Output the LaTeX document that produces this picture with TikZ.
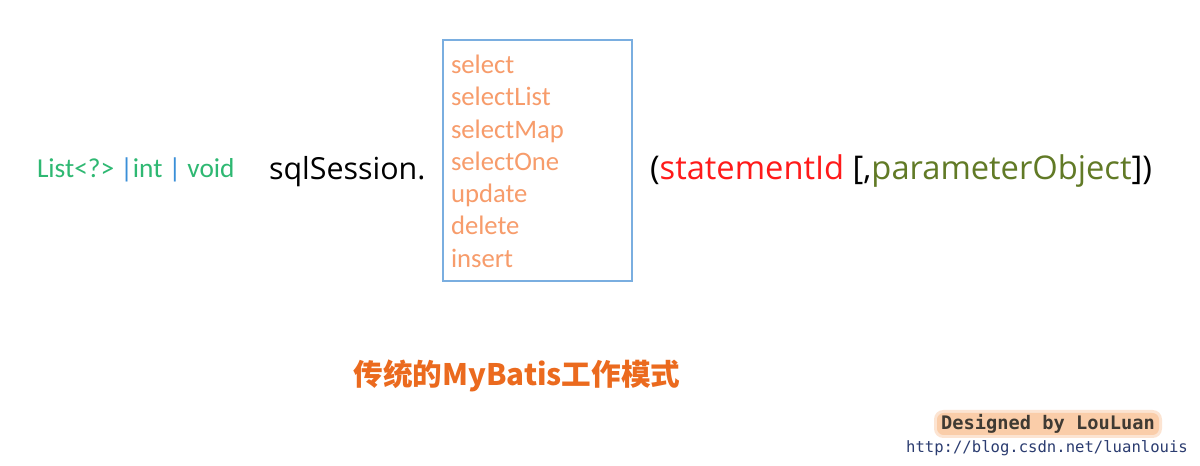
\documentclass[tikz,border=0pt]{standalone}
\usepackage{fontspec}
\setmainfont{Carlito}
\newfontfamily\cjk{Noto Sans CJK SC}
\newfontfamily\comic{Open Sans}
\newfontfamily\mono{DejaVu Sans Mono}
\definecolor{rtgreen}{HTML}{2EB872}
\definecolor{pipeblue}{HTML}{3A8FD8}
\definecolor{itemorange}{HTML}{F79C6B}
\definecolor{boxblue}{HTML}{7AAEE0}
\definecolor{stred}{HTML}{FF1A1A}
\definecolor{olive}{HTML}{617A26}
\definecolor{titleorange}{HTML}{EB6A1E}
\definecolor{signtext}{HTML}{3F3A33}
\definecolor{glow}{HTML}{F9C49A}
\definecolor{urlblue}{HTML}{2B3C70}
\tikzset{
  txt/.style={inner sep=0pt, outer sep=0pt, anchor=base west},
  item/.style={txt, text=itemorange, font=\fontsize{20pt}{22pt}\selectfont},
  methodbox/.style={draw=boxblue, line width=1.1pt, inner sep=0pt}
}
\begin{document}
\begin{tikzpicture}[x=0.75pt,y=-0.75pt]
\useasboundingbox (0,0) rectangle (1200,466);
\fill[white] (0,0) rectangle (1200,466);
% return types
\node[txt, font=\fontsize{20.5pt}{24pt}\selectfont] (ret) at (37,178)
  {\color{rtgreen}List<?>\ \textcolor{pipeblue}{|}int\ \textcolor{pipeblue}{|}\ void};
% sqlSession.
\node[txt, font=\comic\fontsize{22.8pt}{26pt}\selectfont] (sess) at (269,180) {sqlSession.};
% method box
\node[methodbox, minimum width=141.75pt, minimum height=180.75pt] (box) at (537.5,160.5) {};
\foreach \t [count=\i] in {select,selectList,selectMap,selectOne,update,delete,insert}
  \node[item] (m\i) at (451,{73.5+32.3*(\i-1)}) {\t};
% arguments
\node[txt, font=\comic\fontsize{24.5pt}{28pt}\selectfont] (args) at (650,180)
  {(\textcolor{stred}{statementId} [,\textcolor{olive}{parameterObject}])};
% title
\node[inner sep=0pt, text=titleorange, font=\cjk\bfseries\fontsize{22.2pt}{26pt}\selectfont] (title) at (517,376) {传统的MyBatis工作模式};
% signature
\fill[glow!45, rounded corners=7pt] (934,410) rectangle (1162,438);
\fill[glow!85, rounded corners=5pt] (937,413) rectangle (1159,435);
\node[inner sep=0pt, text=signtext, font=\mono\bfseries\fontsize{14pt}{16pt}\selectfont] (sign) at (1048,424) {Designed by LouLuan};
\node[inner sep=0pt, text=urlblue, font=\mono\fontsize{11.7pt}{14pt}\selectfont] (url) at (1047,448) {http://blog.csdn.net/luanlouis};
\end{tikzpicture}
\end{document}
